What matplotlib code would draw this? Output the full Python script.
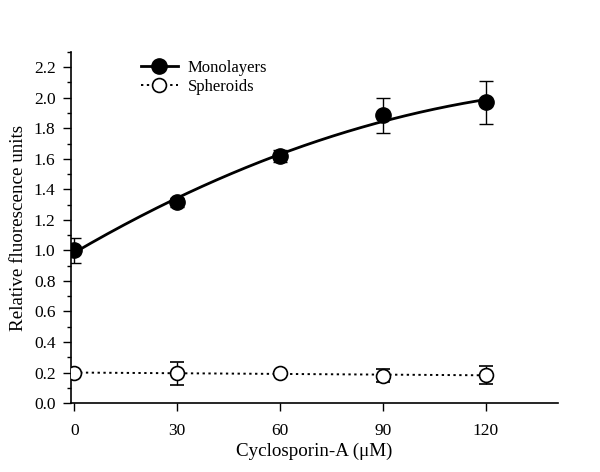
import matplotlib.pyplot as plt
import numpy as np
from matplotlib.ticker import MultipleLocator

plt.rcParams['font.family'] = ['Liberation Serif', 'DejaVu Serif']

# data
conc = [0, 30, 60, 90, 120]
mono = [1.00, 1.316, 1.62, 1.885, 1.97]
mono_err = [0.08, 0.03, 0.04, 0.115, 0.14]
sph = [0.20, 0.195, 0.195, 0.18, 0.185]
sph_err = [0.01, 0.075, 0.01, 0.045, 0.06]

fig = plt.figure(figsize=(6, 4.72), dpi=100)
ax = fig.add_axes([0.118, 0.146, 0.812, 0.744])

# fitted curves (quadratic for monolayers, linear for spheroids)
xs = np.linspace(0, 120, 200)
mono_fit = np.polyval(np.polyfit(conc, mono, 2), xs)
sph_fit = np.polyval(np.polyfit(conc, sph, 1), xs)

ax.plot(xs, mono_fit, color='black', lw=2, zorder=2)
ax.plot(xs, sph_fit, color='black', lw=1.4, ls=(0, (1.2, 1.8)), zorder=2)

ax.errorbar(conc, mono, yerr=mono_err, fmt='o', color='black', ms=11,
            capsize=5, elinewidth=1, capthick=1, zorder=3)
ax.errorbar(conc, sph, yerr=sph_err, fmt='o', color='black', mfc='white',
            mec='black', mew=1.2, ms=10, capsize=5, elinewidth=1,
            capthick=1, zorder=3)

# legend handles
h1, = ax.plot([], [], color='black', lw=2, marker='o', ms=11,
              label='Monolayers')
h2, = ax.plot([], [], color='black', lw=1.4, ls=(0, (1.2, 1.8)), marker='o',
              ms=10, mfc='white', mew=1.2, label='Spheroids')
ax.legend(handles=[h1, h2], loc='upper left', bbox_to_anchor=(0.21, 0.905),
          bbox_transform=fig.transFigure, frameon=False, fontsize=12,
          handlelength=2.2, handletextpad=0.6, labelspacing=0.2)

ax.set_xlim(-1, 141)
ax.set_ylim(0, 2.3)
ax.set_xticks(conc)
ax.yaxis.set_major_locator(MultipleLocator(0.2))
ax.yaxis.set_minor_locator(MultipleLocator(0.1))
ax.yaxis.set_major_formatter(plt.FormatStrFormatter('%.1f'))
ax.tick_params(axis='both', which='major', direction='out', length=6,
               width=1, labelsize=12.5)
ax.tick_params(axis='x', which='major', pad=8)
ax.tick_params(axis='y', which='major', pad=5)
ax.tick_params(axis='y', which='minor', direction='out', length=3, width=1)

for side in ['top', 'right']:
    ax.spines[side].set_visible(False)
for side in ['left', 'bottom']:
    ax.spines[side].set_linewidth(1.2)

ax.set_xlabel('Cyclosporin-A (\u03bcM)', fontsize=13.7, labelpad=3)
ax.set_ylabel('Relative fluorescence units', fontsize=13.7, labelpad=5)

fig.savefig('out.png', dpi=100)
